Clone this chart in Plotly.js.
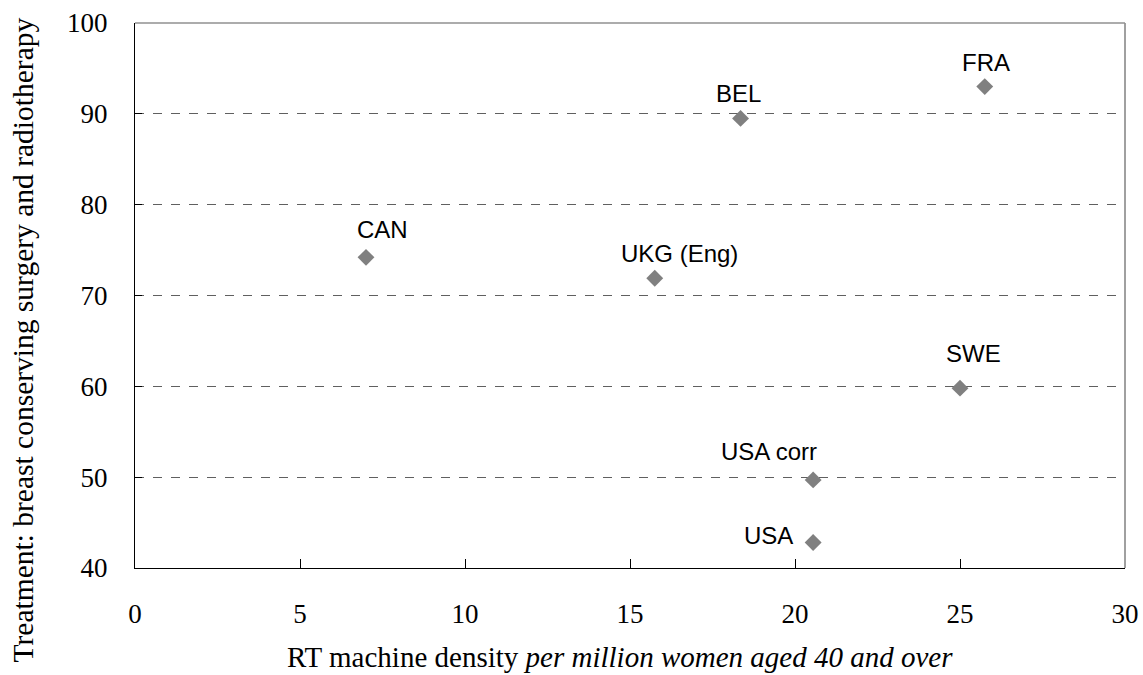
<!DOCTYPE html>
<html>
<head>
<meta charset="utf-8">
<script src="https://cdn.plot.ly/plotly-3.0.1.min.js"></script>
<style>
html,body{margin:0;padding:0;background:#fff;}
#chart{width:1143px;height:675px;}
</style>
</head>
<body>
<div id="chart"></div>
<script>
// Data
var countries = ["CAN", "UKG (Eng)", "BEL", "FRA", "SWE", "USA corr", "USA"];
var rtDensity = [7.0, 15.75, 18.35, 25.75, 25.0, 20.55, 20.55];
var bcsRadiotherapy = [74.2, 71.9, 89.5, 93.0, 59.8, 49.7, 42.8];
var xTicks = [0, 5, 10, 15, 20, 25, 30];
var yTicks = [40, 50, 60, 70, 80, 90, 100];
var xTitle = "RT machine density <i>per million women aged 40 and over</i>";
var yTitle = "Treatment: breast conserving surgery and radiotherapy";

// Label placement (pixel shifts relative to each marker)
var labelShiftX = [16, 25, -2, 1, 13, -44, -45];
var labelShiftY = [28, 25, 25, 24, 35, 28, 7];

var serif = "Liberation Serif, Times New Roman, serif";
var sans = "Liberation Sans, Arial, sans-serif";

var annotations = countries.map(function (c, i) {
  return {
    x: rtDensity[i], y: bcsRadiotherapy[i], xref: "x", yref: "y",
    text: c, showarrow: false,
    xshift: labelShiftX[i], yshift: labelShiftY[i],
    font: {family: sans, size: 24, color: "#000"}
  };
});

// Axis titles (placed as annotations to match the reference offsets)
annotations.push({
  xref: "paper", yref: "paper", x: 0.5, y: 0,
  xanchor: "center", yanchor: "top", xshift: -10, yshift: -71,
  text: xTitle, showarrow: false,
  font: {family: serif, size: 29, color: "#000"}
});
annotations.push({
  xref: "paper", yref: "paper", x: 0, y: 0.5,
  xanchor: "center", yanchor: "middle", xshift: -113, yshift: -45,
  textangle: -90, text: yTitle, showarrow: false,
  font: {family: serif, size: 29.5, color: "#000"}
});

var trace = {
  type: "scatter", mode: "markers",
  x: rtDensity, y: bcsRadiotherapy, text: countries,
  marker: {symbol: "diamond", size: 13, color: "#808080", line: {width: 0}},
  hoverinfo: "text+x+y"
};

var layout = {
  width: 1143, height: 675,
  margin: {l: 135, r: 18, t: 23, b: 107},
  paper_bgcolor: "#fff", plot_bgcolor: "#fff",
  showlegend: false,
  font: {family: serif, size: 27, color: "#000"},
  xaxis: {
    range: [0, 30], tickvals: xTicks, ticktext: xTicks.map(String),
    ticks: "inside", ticklen: 9, tickcolor: "#000", tickwidth: 1,
    showline: true, linecolor: "#000", linewidth: 1,
    showgrid: false, zeroline: false,
    tickfont: {family: serif, size: 27, color: "#000"},
    ticklabelstandoff: 22
  },
  yaxis: {
    range: [40, 100], tickvals: yTicks, ticktext: yTicks.map(String),
    ticks: "inside", ticklen: 7, tickcolor: "#000", tickwidth: 1,
    showline: true, linecolor: "#000", linewidth: 1,
    showgrid: true, gridcolor: "#606060", gridwidth: 1, griddash: "dash",
    zeroline: false,
    tickfont: {family: serif, size: 27, color: "#000"},
    ticklabelstandoff: 21
  },
  shapes: [
    {type: "line", xref: "paper", yref: "paper", x0: 1, x1: 1, y0: 0, y1: 1,
     line: {color: "#808080", width: 1.5}},
    {type: "line", xref: "paper", yref: "paper", x0: 0, x1: 1, y0: 1, y1: 1,
     line: {color: "#909090", width: 1.5}}
  ],
  annotations: annotations
};

Plotly.newPlot("chart", [trace], layout, {displayModeBar: false, staticPlot: true});
</script>
</body>
</html>
